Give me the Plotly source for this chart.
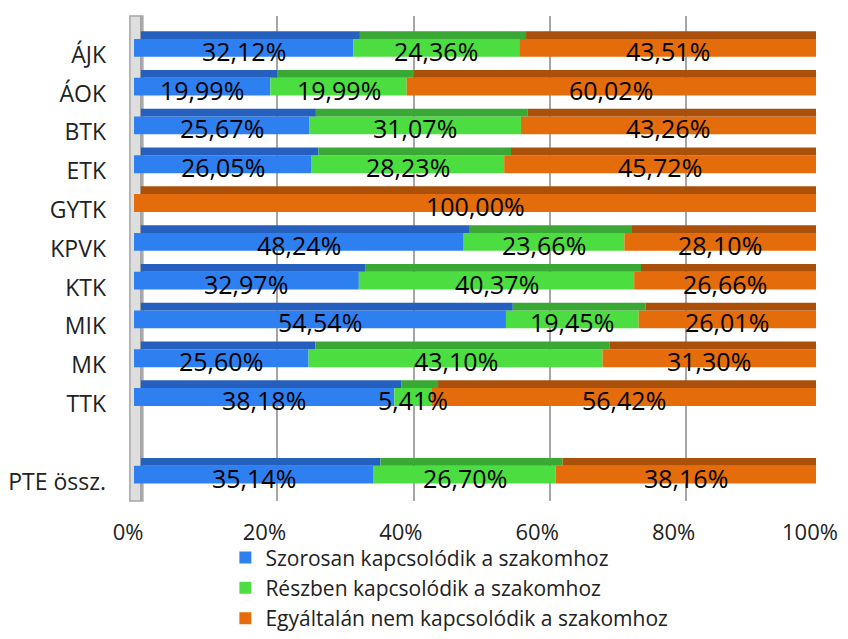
import numpy as np
import plotly.graph_objects as go

# categories (10 faculties, a blank spacer row, then the university total)
FACULTIES = ["ÁJK", "ÁOK", "BTK", "ETK", "GYTK", "KPVK", "KTK", "MIK", "MK", "TTK"]
TOTAL_LABEL = "PTE össz."
SPACER = " "

SERIES_NAMES = [
    "Szorosan kapcsolódik a szakomhoz",
    "Részben kapcsolódik a szakomhoz",
    "Egyáltalán nem kapcsolódik a szakomhoz",
]

# shares in %, faculties first, last value = PTE össz.
CLOSELY = [32.12, 19.99, 25.67, 26.05, 0.00, 48.24, 32.97, 54.54, 25.60, 38.18, 35.14]
PARTLY = [24.36, 19.99, 31.07, 28.23, 0.00, 23.66, 40.37, 19.45, 43.10, 5.41, 26.70]
NOT_AT_ALL = [43.51, 60.02, 43.26, 45.72, 100.00, 28.10, 26.66, 26.01, 31.30, 56.42, 38.16]

X_TICKS = [0, 20, 40, 60, 80, 100]

FRONT_COLORS = ["#2E80F0", "#4CDE40", "#E46C0A"]
TOP_COLORS = ["#2660BE", "#3AA834", "#AA500A"]

FONT = "Open Sans, Lato, sans-serif"


def with_spacer(vals):
    return list(vals[:-1]) + [None] + [vals[-1]]


categories = FACULTIES + [SPACER, TOTAL_LABEL]
rows = FACULTIES + [TOTAL_LABEL]
raw = np.array([CLOSELY, PARTLY, NOT_AT_ALL], dtype=float)
# 100% stacked: normalise every row to a sum of 100
norm = raw / raw.sum(axis=0) * 100
bases = np.vstack([np.zeros(raw.shape[1]), np.cumsum(norm, axis=0)[:-1]])

fig = go.Figure()
annotations = []
for i, name in enumerate(SERIES_NAMES):
    x = with_spacer(norm[i].tolist())
    base = with_spacer(bases[i].tolist())
    # darker top face of the 3D bar, pushed back on the depth axis (x2)
    fig.add_trace(go.Bar(
        y=categories, x=x, base=base, orientation="h",
        xaxis="x2", width=0.2, offset=-0.61,
        marker=dict(color=TOP_COLORS[i], line=dict(width=0)),
        legendgroup=f"g{i}", showlegend=False, hoverinfo="skip",
        cliponaxis=False,
    ))
    # front face
    fig.add_trace(go.Bar(
        y=categories, x=x, base=base, orientation="h",
        width=0.46, offset=-0.41, name=name,
        marker=dict(color=FRONT_COLORS[i], line=dict(width=0)),
        legendgroup=f"g{i}",
    ))
    # data labels on top of everything (they may spill over the next segment)
    for cat, v, b, n in zip(rows, raw[i], bases[i], norm[i]):
        if v <= 0:
            continue
        annotations.append(dict(
            x=b + n / 2, y=cat, xref="x", yref="y",
            text=f"{v:.2f}".replace(".", ",") + "%",
            showarrow=False, yshift=4,
            font=dict(size=25, color="black", family=FONT),
        ))

fig.update_layout(
    width=832, height=623,
    paper_bgcolor="white", plot_bgcolor="white",
    font=dict(family=FONT, color="#222"),
    barmode="overlay",
    margin=dict(l=126, r=24, t=8, b=130, autoexpand=False),
    showlegend=True,
    legend=dict(
        orientation="v", x=0.134, y=-0.075, xanchor="left", yanchor="top",
        bgcolor="rgba(0,0,0,0)",
        font=dict(size=21, color="#222"), traceorder="normal", tracegroupgap=4,
    ),
    xaxis=dict(
        range=[0, 100], tickvals=X_TICKS, ticktext=[f"{t}%" for t in X_TICKS],
        showgrid=False, zeroline=False, showline=False, automargin=False,
        tickfont=dict(size=22), ticklabelstandoff=16, ticklabelshift=-6,
        ticklabeloverflow="allow",
    ),
    xaxis2=dict(
        overlaying="x", anchor="y", range=[-1, 99],
        tickvals=X_TICKS, showticklabels=False, ticks="",
        showgrid=True, gridcolor="#A6A6A6", gridwidth=2, zeroline=False,
        automargin=False,
    ),
    yaxis=dict(
        type="category", categoryorder="array", categoryarray=categories,
        range=[11.5, -1.0], showgrid=False, zeroline=False, automargin=False,
        tickfont=dict(size=23), ticklabelstandoff=27,
    ),
    annotations=annotations,
    shapes=[dict(
        type="rect", xref="paper", yref="paper",
        x0=-0.006, x1=0.013, y0=0.0, y1=1.0,
        fillcolor="#DEDEDE", line=dict(color="#A6A6A6", width=1.5),
        layer="below",
    )],
)

fig.write_html("out.html")
